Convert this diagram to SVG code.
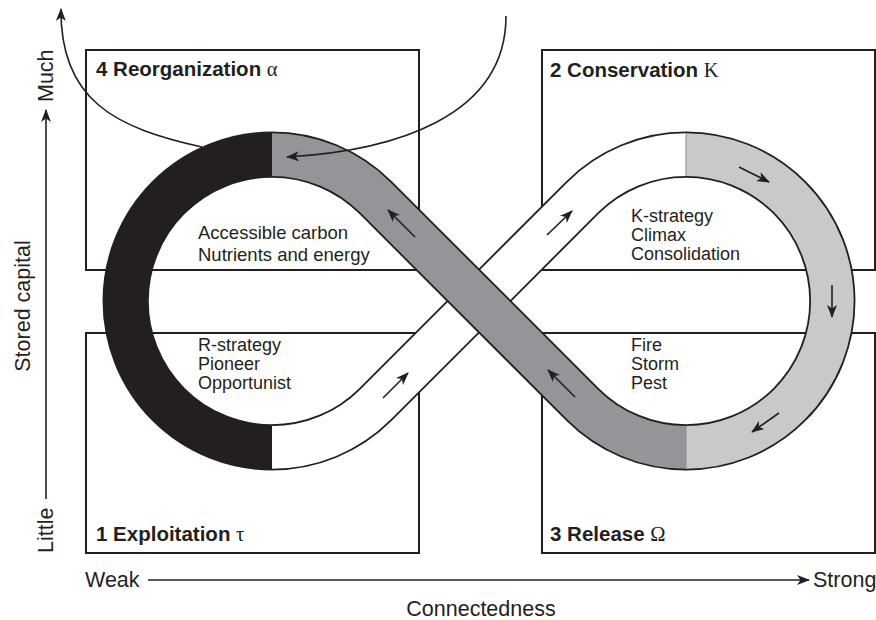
<svg xmlns="http://www.w3.org/2000/svg" width="876" height="620" viewBox="0 0 876 620">
<defs>
<style>
.box{fill:none;stroke:#231f20;stroke-width:2}
.edge{fill:none;stroke:#231f20;stroke-width:1.8}
.split{fill:none;stroke:#8c8d90;stroke-width:1}
.arr{fill:none;stroke:#231f20;stroke-width:1.6;marker-end:url(#ah)}
.lbl{font-family:"Liberation Sans",Arial,sans-serif;font-weight:bold;font-size:20.5px;fill:#231f20}
.gk{font-family:"Liberation Serif","Times New Roman",serif;font-weight:normal}
.txt{font-family:"Liberation Sans",Arial,sans-serif;font-size:18.5px;fill:#231f20}
.txs{font-family:"Liberation Sans",Arial,sans-serif;font-size:18px;fill:#231f20}
.ax{font-family:"Liberation Sans",Arial,sans-serif;font-size:21.5px;fill:#231f20}
</style>
<marker id="ah" viewBox="0 0 13 10" refX="12" refY="5" markerWidth="13" markerHeight="10" markerUnits="userSpaceOnUse" orient="auto">
<path d="M0,0 L13,5 L0,10 L3.5,5 Z" fill="#231f20"/>
</marker>
</defs>
<rect width="876" height="620" fill="#ffffff"/>

<g id="box-reorganization">
<rect class="box" x="86" y="50" width="333" height="220"/>
<text class="lbl" x="96" y="76">4 Reorganization <tspan class="gk">α</tspan></text>
</g>
<g id="box-conservation">
<rect class="box" x="542" y="50" width="333" height="220"/>
<text class="lbl" x="550" y="77">2 Conservation <tspan class="gk">K</tspan></text>
</g>
<g id="box-exploitation">
<rect class="box" x="86" y="333" width="333" height="220"/>
<text class="lbl" x="96" y="541">1 Exploitation <tspan class="gk">τ</tspan></text>
</g>
<g id="box-release">
<rect class="box" x="542" y="333" width="333" height="220"/>
<text class="lbl" x="550" y="541">3 Release <tspan class="gk">Ω</tspan></text>
</g>

<g id="cycle">
<g id="seg-black">
<path d="M272,132.44 A168.56,168.56 0 0 0 272,469.56 L272,425.16 A124.16,124.16 0 0 1 272,176.84 Z" fill="#231f20"/>
<path class="edge" d="M272,132.44 A168.56,168.56 0 0 0 272,469.56 M272,176.84 A124.16,124.16 0 0 0 272,425.16"/>
</g>
<g id="seg-lightgray">
<path d="M686,132.44 A168.56,168.56 0 0 1 686,469.56 L686,425.16 A124.16,124.16 0 0 0 686,176.84 Z" fill="#c8c9cb"/>
<path class="edge" d="M686,132.44 A168.56,168.56 0 0 1 686,469.56 M686,176.84 A124.16,124.16 0 0 1 686,425.16"/>
</g>
<g id="seg-white">
<path d="M272,469.56 A168.56,168.56 0 0 0 391.19,420.19 L598.21,213.21 A124.16,124.16 0 0 1 686,176.84 L686,132.44 A168.56,168.56 0 0 0 566.81,181.81 L359.79,388.79 A124.16,124.16 0 0 1 272,425.16 Z" fill="#ffffff"/>
<path class="edge" d="M272,469.56 A168.56,168.56 0 0 0 391.19,420.19 L598.21,213.21 A124.16,124.16 0 0 1 686,176.84 M686,132.44 A168.56,168.56 0 0 0 566.81,181.81 L359.79,388.79 A124.16,124.16 0 0 1 272,425.16"/>
</g>
<g id="seg-gray">
<path d="M686,469.56 A168.56,168.56 0 0 1 566.81,420.19 L359.79,213.21 A124.16,124.16 0 0 0 272,176.84 L272,132.44 A168.56,168.56 0 0 1 391.19,181.81 L598.21,388.79 A124.16,124.16 0 0 0 686,425.16 Z" fill="#939598"/>
<path class="edge" d="M686,469.56 A168.56,168.56 0 0 1 566.81,420.19 L359.79,213.21 A124.16,124.16 0 0 0 272,176.84 M272,132.44 A168.56,168.56 0 0 1 391.19,181.81 L598.21,388.79 A124.16,124.16 0 0 0 686,425.16"/>
</g>
<path class="split" d="M686,133.4 V175.9 M686,426.1 V468.6"/>
</g>

<g id="texts">
<text class="txt" x="198" y="239">Accessible carbon</text>
<text class="txt" x="198" y="261">Nutrients and energy</text>
<text class="txs" x="198" y="351">R-strategy</text>
<text class="txs" x="198" y="370">Pioneer</text>
<text class="txs" x="198" y="389">Opportunist</text>
<text class="txs" x="631" y="222">K-strategy</text>
<text class="txs" x="631" y="241">Climax</text>
<text class="txs" x="631" y="260">Consolidation</text>
<text class="txs" x="631" y="351">Fire</text>
<text class="txs" x="631" y="370">Storm</text>
<text class="txs" x="631" y="389">Pest</text>
</g>

<g id="connectors">
<line class="arr" x1="415" y1="237" x2="388" y2="210"/>
<line class="arr" x1="575" y1="397" x2="548" y2="370"/>
<line class="arr" x1="383" y1="398" x2="408" y2="373"/>
<line class="arr" x1="547" y1="235" x2="572" y2="211"/>
<line class="arr" x1="739" y1="167" x2="769" y2="182"/>
<line class="arr" x1="832" y1="285" x2="832" y2="317"/>
<line class="arr" x1="779" y1="413" x2="752" y2="432"/>
<path class="arr" d="M202,147 C115,128 60,100 61,9"/>
<path class="arr" d="M506,16 C506,118 392,151 287,157"/>
<line class="arr" x1="46" y1="499" x2="46" y2="110"/>
<line class="arr" x1="148" y1="580" x2="809" y2="580"/>
</g>

<g id="axes-labels">
<text class="ax" x="53" y="102" transform="rotate(-90 53 102)">Much</text>
<text class="ax" x="53" y="553" transform="rotate(-90 53 553)">Little</text>
<text class="ax" x="30" y="306" text-anchor="middle" transform="rotate(-90 30 306)">Stored capital</text>
<text class="ax" x="85" y="587">Weak</text>
<text class="ax" x="813" y="587">Strong</text>
<text class="ax" x="481" y="616" text-anchor="middle">Connectedness</text>
</g>
</svg>
